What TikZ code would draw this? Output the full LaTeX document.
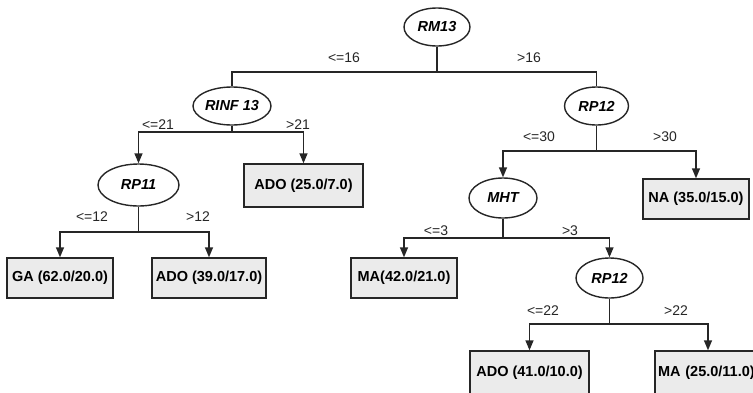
\documentclass[tikz,border=0pt]{standalone}
\usepackage{fontspec}
\setmainfont{Liberation Sans}
\usetikzlibrary{arrows.meta,shapes.geometric}
\begin{document}
\begin{tikzpicture}[x=1pt,y=-1pt,
  line width=1.4pt,
  test/.style={draw=black!85, ellipse, inner sep=0pt, font=\fontsize{14.5}{16}\selectfont\bfseries\itshape},
  leaf/.style={draw=black!85, fill=black!8, inner sep=0pt, minimum height=40pt, font=\fontsize{14.5}{16}\selectfont\bfseries},
  cond/.style={font=\fontsize{14}{16}\selectfont, text=black!85},
  link/.style={draw=black!85},
  arr/.style={draw=black!85, -{Triangle[length=10pt,width=8pt]}}
]
\useasboundingbox (0,0) rectangle (753,392);

% decision nodes
\node[test, minimum width=66pt, minimum height=38pt] (rm13) at (437,27) {RM13};
\node[test, minimum width=78pt, minimum height=38pt] (rinf) at (232,106) {RINF 13};
\node[test, minimum width=64pt, minimum height=38pt] (rp12) at (596.5,106) {RP12};
\node[test, minimum width=81pt, minimum height=42pt] (rp11) at (138.5,185) {RP11};
\node[test, minimum width=68pt, minimum height=40pt] (mht) at (503,198) {MHT};
\node[test, minimum width=67pt, minimum height=40pt] (rp12b) at (609.5,278) {RP12};

% leaves
\node[leaf, minimum width=119pt, minimum height=43pt] (ado25) at (303.5,185.5) {ADO (25.0/7.0)};
\node[leaf, minimum width=106pt] (ga) at (60,278) {GA (62.0/20.0)};
\node[leaf, minimum width=114pt] (ado39) at (209,278) {ADO (39.0/17.0)};
\node[leaf, minimum width=106pt] (na) at (696,199) {NA (35.0/15.0)};
\node[leaf, minimum width=106pt] (ma42) at (404,278) {MA(42.0/21.0)};
\node[leaf, minimum width=119pt, minimum height=43pt] (ado41) at (529.5,372.5) {ADO (41.0/10.0)};
\node[leaf, minimum width=106pt, minimum height=43pt, text width=100pt, align=left] (ma25) at (708,372.5) {MA (25.0/11.0)};

% split points
\coordinate (j1) at (437,72);
\coordinate (j2) at (232,132);
\coordinate (j3) at (138.5,232);
\coordinate (j4) at (596.5,151);
\coordinate (j5) at (503,238);
\coordinate (j6) at (609.5,324);

% branches: stem down to the split point, then across and down to each child
\draw[link] (rm13.south) -- (j1) -| (rinf.north);
\draw[link] (rm13.south) -- (j1) -| (rp12.north);

\draw[arr] (rinf.south) -- (j2) -| (rp11.north);
\draw[arr] (rinf.south) -- (j2) -| (ado25.north);

\draw[arr] (rp11.south) -- (j3) -| (ga.north);
\draw[arr] (rp11.south) -- (j3) -| (ado39.north);

\draw[arr] (rp12.south) -- (j4) -| (mht.north);
\draw[arr] (rp12.south) -- (j4) -| (na.north);

\draw[arr] (mht.south) -- (j5) -| (ma42.north);
\draw[arr] (mht.south) -- (j5) -| (rp12b.north);

\draw[arr] (rp12b.south) -- (j6) -| (ado41.north);
\draw[arr] (rp12b.south) -- (j6) -| (ma25.north);

% branch conditions
\node[cond] (c1) at (344,58) {<=16};
\node[cond] (c2) at (529,58) {>16};
\node[cond] (c3) at (158,125) {<=21};
\node[cond] (c4) at (298,125) {>21};
\node[cond] (c5) at (92,217) {<=12};
\node[cond] (c6) at (198,217) {>12};
\node[cond] (c7) at (539,137) {<=30};
\node[cond] (c8) at (665,137) {>30};
\node[cond] (c9) at (436,231) {<=3};
\node[cond] (c10) at (570,231) {>3};
\node[cond] (c11) at (543,311) {<=22};
\node[cond] (c12) at (676,311) {>22};
\end{tikzpicture}
\end{document}
